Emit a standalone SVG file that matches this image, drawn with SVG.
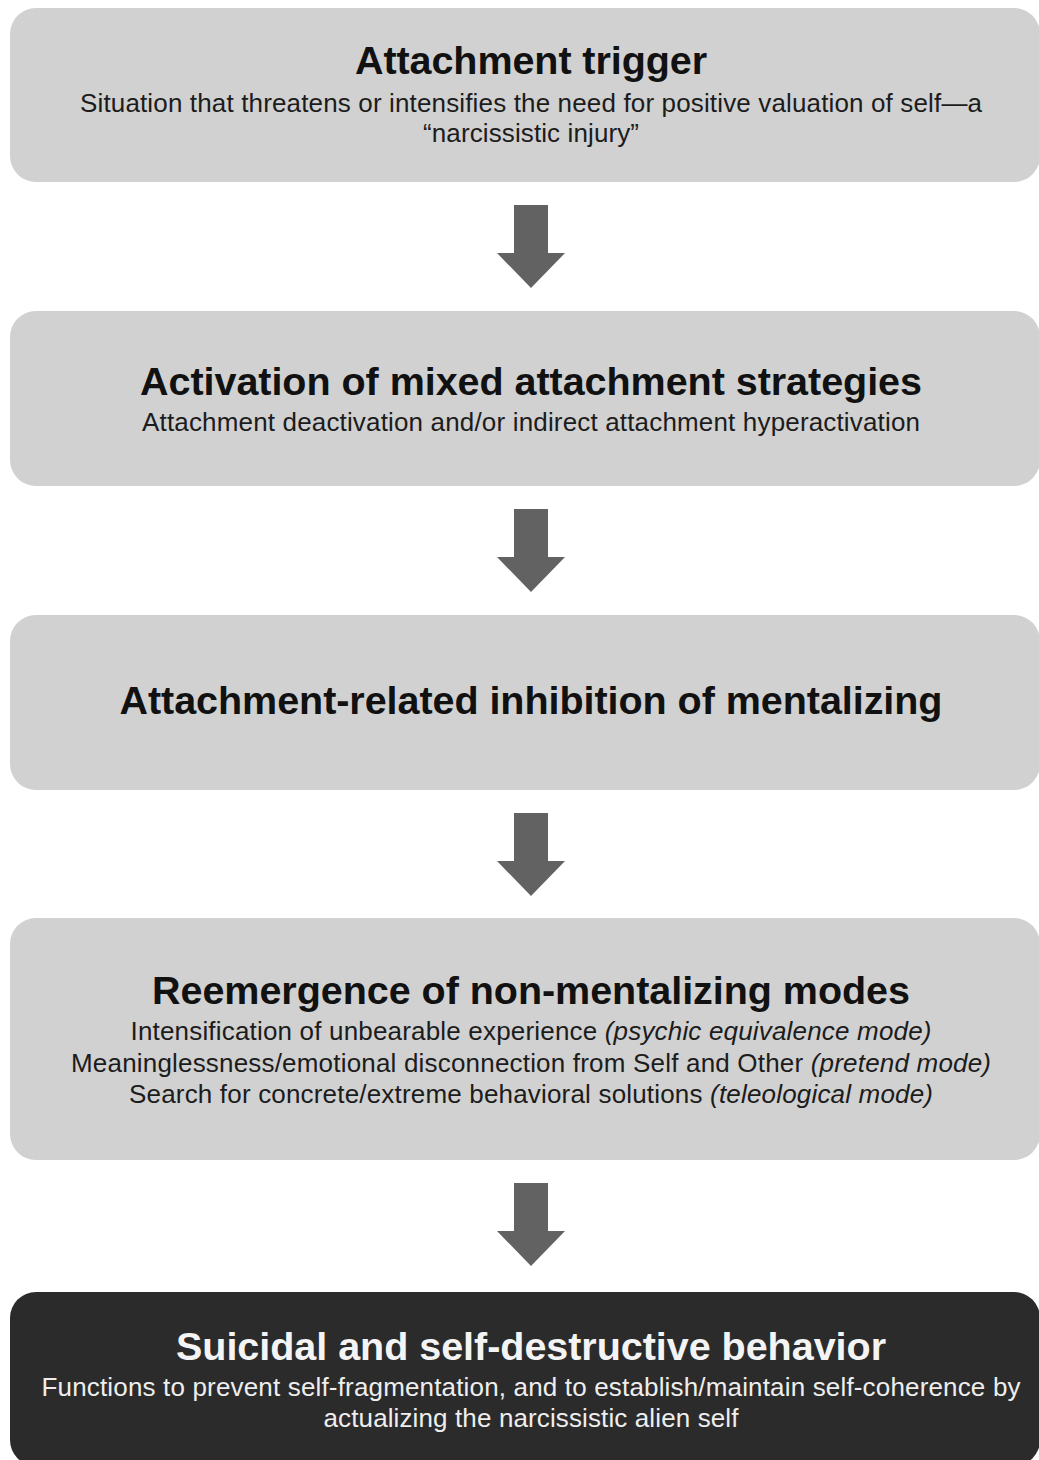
<svg xmlns="http://www.w3.org/2000/svg" width="1039" height="1460" viewBox="0 0 1039 1460">
  <style>
    .box { fill: #d1d1d1; }
    .box-dark { fill: #2b2b2b; }
    .title { font-family: "Liberation Sans", Arial, sans-serif; font-weight: bold; font-size: 39.5px; fill: #111; text-anchor: middle; }
    .sub { font-family: "Liberation Sans", Arial, sans-serif; font-size: 26px; fill: #1c1c1c; text-anchor: middle; }
    .dark .title { fill: #f4f4f4; }
    .dark .sub { fill: #eeeeee; }
    .mode { font-style: italic; }
    .arrow { fill: #626262; }
  </style>
  <defs>
    <!-- block arrow pointing down, origin at top-centre of shaft -->
    <path id="downArrow" d="M -17 0 H 17 V 48 H 34 L 0 83 L -34 48 H -17 Z"/>
  </defs>

  <rect width="1039" height="1460" fill="#ffffff"/>

  <g id="connectors">
    <use href="#downArrow" class="arrow" x="531" y="205"/>
    <use href="#downArrow" class="arrow" x="531" y="509"/>
    <use href="#downArrow" class="arrow" x="531" y="813"/>
    <use href="#downArrow" class="arrow" x="531" y="1183"/>
  </g>

  <g id="attachment-trigger">
    <rect class="box" x="10" y="8" width="1030" height="174" rx="26"/>
    <text class="title" x="531" y="74" textLength="352" lengthAdjust="spacing">Attachment trigger</text>
    <text class="sub" x="531" y="112" textLength="902" lengthAdjust="spacing">Situation that threatens or intensifies the need for positive valuation of self—a</text>
    <text class="sub" x="531" y="142" textLength="216" lengthAdjust="spacing">“narcissistic injury”</text>
  </g>

  <g id="mixed-strategies">
    <rect class="box" x="10" y="311" width="1030" height="175" rx="26"/>
    <text class="title" x="531" y="395" textLength="782" lengthAdjust="spacing">Activation of mixed attachment strategies</text>
    <text class="sub" x="531" y="431" textLength="778" lengthAdjust="spacing">Attachment deactivation and/or indirect attachment hyperactivation</text>
  </g>

  <g id="inhibition">
    <rect class="box" x="10" y="615" width="1030" height="175" rx="26"/>
    <text class="title" x="531" y="714" textLength="823" lengthAdjust="spacing">Attachment-related inhibition of mentalizing</text>
  </g>

  <g id="non-mentalizing-modes">
    <rect class="box" x="10" y="918" width="1030" height="242" rx="26"/>
    <text class="title" x="531" y="1004" textLength="758" lengthAdjust="spacing">Reemergence of non-mentalizing modes</text>
    <text class="sub" x="531" y="1040" textLength="801" lengthAdjust="spacing">Intensification of unbearable experience <tspan class="mode">(psychic equivalence mode)</tspan></text>
    <text class="sub" x="531" y="1072" textLength="920" lengthAdjust="spacing">Meaninglessness/emotional disconnection from Self and Other <tspan class="mode">(pretend mode)</tspan></text>
    <text class="sub" x="531" y="1103" textLength="804" lengthAdjust="spacing">Search for concrete/extreme behavioral solutions <tspan class="mode">(teleological mode)</tspan></text>
  </g>

  <g id="self-destructive-behavior" class="dark">
    <rect class="box-dark" x="10" y="1292" width="1030" height="174" rx="26"/>
    <text class="title" x="531" y="1360" textLength="710" lengthAdjust="spacing">Suicidal and self-destructive behavior</text>
    <text class="sub" x="531" y="1396" textLength="979" lengthAdjust="spacing">Functions to prevent self-fragmentation, and to establish/maintain self-coherence by</text>
    <text class="sub" x="531" y="1427" textLength="415" lengthAdjust="spacing">actualizing the narcissistic alien self</text>
  </g>
</svg>
